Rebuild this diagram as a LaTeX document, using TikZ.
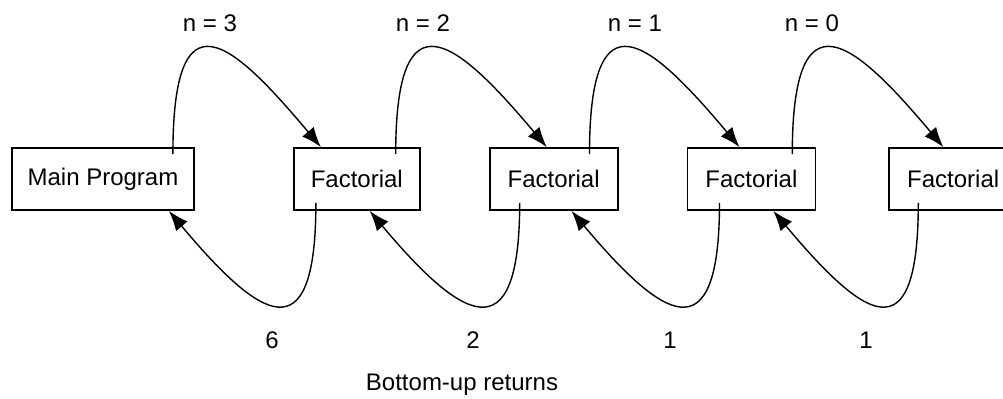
\documentclass[tikz,border=0pt]{standalone}
\usepackage{fontspec}
\setmainfont{Liberation Sans}
\usetikzlibrary{positioning,arrows.meta}

\begin{document}
\begin{tikzpicture}[x=0.5pt,y=0.5pt,>={Latex[length=10pt,width=7.5pt]},node distance=34pt,
  font=\fontsize{12}{14}\selectfont,
  box/.style={draw,line width=0.9pt,minimum width=64pt,minimum height=31pt,inner sep=0pt},
  call/.style={->,line width=0.7pt}]
\useasboundingbox (0,0) rectangle (1003,-398);
\node[box,minimum width=91pt] (main) at (103,-179) {Main Program};
\node[box,minimum width=63pt,right=49pt of main] (f1) {Factorial};
\node[box,right=of f1] (f2) {Factorial};
\node[box,right=of f2] (f3) {Factorial};
\node[box,right=36pt of f3] (f4) {Factorial};
% calls going down
\draw[call] ([xshift=-11pt,yshift=-3.5pt]main.north east) .. controls +(90:165) and +(130:140) .. ([xshift=14pt]f1.north west);
\draw[call] ([xshift=-12.5pt,yshift=-3.5pt]f1.north east) .. controls +(90:165) and +(130:140) .. ([xshift=29pt]f2.north west);
\draw[call] ([xshift=-14.5pt,yshift=-3.5pt]f2.north east) .. controls +(90:165) and +(130:140) .. ([xshift=26.5pt]f3.north west);
\draw[call] ([xshift=-12pt,yshift=-3.5pt]f3.north east) .. controls +(90:165) and +(130:140) .. ([xshift=27.5pt]f4.north west);
% returns coming back
\draw[call] ([xshift=11.5pt,yshift=4pt]f1.south west) .. controls +(-90:155) and +(-50:140) .. ([xshift=-13pt]main.south east);
\draw[call] ([xshift=15.5pt,yshift=4pt]f2.south west) .. controls +(-90:155) and +(-50:140) .. ([xshift=-25.5pt]f1.south east);
\draw[call] ([xshift=16.5pt,yshift=4pt]f3.south west) .. controls +(-90:155) and +(-50:140) .. ([xshift=-23.5pt]f2.south east);
\draw[call] ([xshift=15pt,yshift=4pt]f4.south west) .. controls +(-90:155) and +(-50:140) .. ([xshift=-21.5pt]f3.south east);
% labels
\node (n3) at (210,-23) {n = 3};
\node (n2) at (423,-23) {n = 2};
\node (n1) at (635,-23) {n = 1};
\node (n0) at (812,-23) {n = 0};
\node (r6) at (272,-340) {6};
\node (r2) at (473,-340) {2};
\node (r1) at (670,-340) {1};
\node (r0) at (866,-340) {1};
\node (cap) at (462,-385) {Bottom-up returns};
\end{tikzpicture}
\end{document}
